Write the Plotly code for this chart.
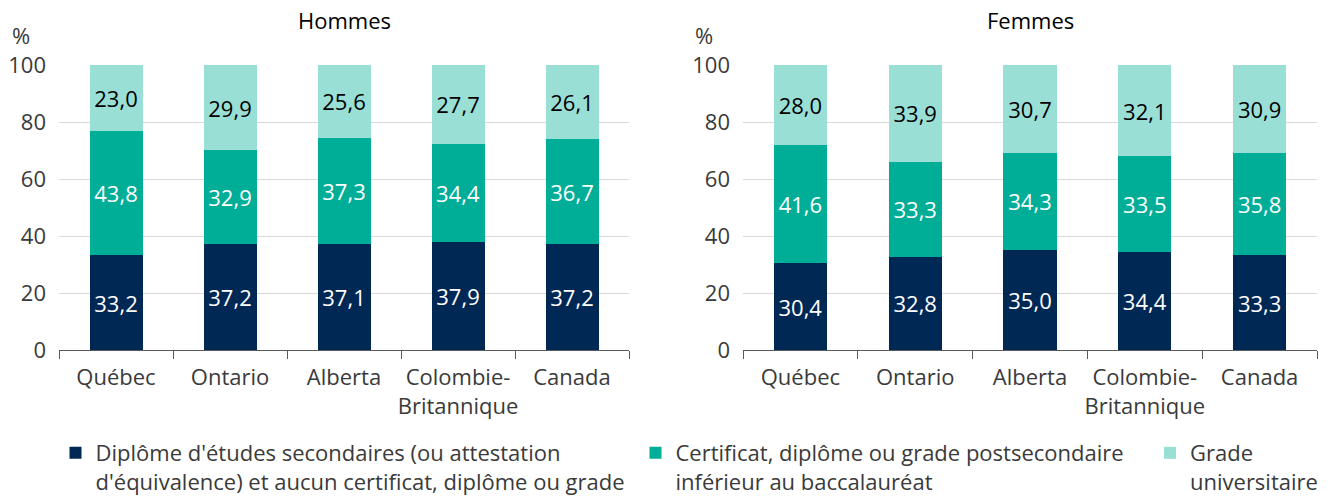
import plotly.graph_objects as go
from plotly.subplots import make_subplots

categories = ["Québec", "Ontario", "Alberta", "Colombie-<br>Britannique", "Canada"]
series_names = [
    "Diplôme d'études secondaires (ou attestation<br>d'équivalence) et aucun certificat, diplôme ou grade",
    "Certificat, diplôme ou grade postsecondaire<br>inférieur au baccalauréat",
    "Grade<br>universitaire",
]
hommes_secondaire = [33.2, 37.2, 37.1, 37.9, 37.2]
hommes_postsec = [43.8, 32.9, 37.3, 34.4, 36.7]
hommes_univ = [23.0, 29.9, 25.6, 27.7, 26.1]
femmes_secondaire = [30.4, 32.8, 35.0, 34.4, 33.3]
femmes_postsec = [41.6, 33.3, 34.3, 33.5, 35.8]
femmes_univ = [28.0, 33.9, 30.7, 32.1, 30.9]
y_ticks = [0, 20, 40, 60, 80, 100]

colors = ["#002855", "#00ae97", "#9adfd6"]
text_colors = ["white", "white", "black"]
FONT = "Open Sans"
FS = 22
TICK_COLOR = "#3a3a3a"

# body margin is removed in the page (post_script), so the figure fills the window
W, H = 1328, 498
ML, MR, MT, MB = 59, 11, 65, 148
PW = W - ML - MR
PH = H - MT - MB

fig = make_subplots(rows=1, cols=2, horizontal_spacing=0)

panels = [
    (1, [hommes_secondaire, hommes_postsec, hommes_univ]),
    (2, [femmes_secondaire, femmes_postsec, femmes_univ]),
]
legend_ids = ["legend", "legend2", "legend3"]
for col, data in panels:
    for i, vals in enumerate(data):
        fig.add_trace(
            go.Bar(
                x=categories,
                y=vals,
                name=series_names[i],
                marker=dict(color=colors[i], line=dict(width=0)),
                texttemplate="%{y:.1f}",
                textposition="inside",
                insidetextanchor="middle",
                textangle=0,
                insidetextfont=dict(color=text_colors[i], size=FS, family=FONT),
                showlegend=(col == 1),
                legend=legend_ids[i],
                hoverinfo="skip",
            ),
            row=1,
            col=col,
        )


def px_x(page_x):
    return (page_x - ML) / PW


def px_y(page_y):
    return (H - MB - page_y) / PH


left_dom = [px_x(59), px_x(629)]
right_dom = [px_x(743), px_x(1317)]

axis_common_x = dict(
    showline=True,
    linecolor="#595959",
    linewidth=1,
    ticks="outside",
    tickson="boundaries",
    ticklen=8,
    tickcolor="#595959",
    tickangle=0,
    ticklabelstandoff=8,
    tickfont=dict(size=FS, color=TICK_COLOR, family=FONT),
    showgrid=False,
    fixedrange=True,
)
axis_common_y = dict(
    range=[0, 100],
    tickvals=y_ticks,
    showgrid=True,
    gridcolor="#d9d9d9",
    gridwidth=1,
    showline=False,
    zeroline=False,
    ticks="",
    ticklabelstandoff=12,
    tickfont=dict(size=FS, color=TICK_COLOR, family=FONT),
    fixedrange=True,
)
fig.update_xaxes(domain=left_dom, row=1, col=1, **axis_common_x)
fig.update_xaxes(domain=right_dom, row=1, col=2, **axis_common_x)
fig.update_yaxes(row=1, col=1, **axis_common_y)
fig.update_yaxes(row=1, col=2, **axis_common_y)

annotations = [
    dict(text="Hommes", x=(left_dom[0] + left_dom[1]) / 2, y=px_y(20), xref="paper", yref="paper",
         showarrow=False, font=dict(size=FS, color="black", family=FONT), xanchor="center", yanchor="middle"),
    dict(text="Femmes", x=(right_dom[0] + right_dom[1]) / 2, y=px_y(20), xref="paper", yref="paper",
         showarrow=False, font=dict(size=FS, color="black", family=FONT), xanchor="center", yanchor="middle"),
    dict(text="%", x=px_x(21), y=px_y(35), xref="paper", yref="paper",
         showarrow=False, font=dict(size=FS, color=TICK_COLOR, family=FONT), xanchor="center", yanchor="middle"),
    dict(text="%", x=px_x(704), y=px_y(35), xref="paper", yref="paper",
         showarrow=False, font=dict(size=FS, color=TICK_COLOR, family=FONT), xanchor="center", yanchor="middle"),
]

legend_common = dict(
    orientation="h",
    yanchor="top",
    y=px_y(432),
    xanchor="left",
    valign="top",
    font=dict(size=FS, color=TICK_COLOR, family=FONT),
    bgcolor="rgba(0,0,0,0)",
    borderwidth=0,
)

fig.update_layout(
    width=W,
    height=H,
    margin=dict(l=ML, r=MR, t=MT, b=MB, autoexpand=False),
    barmode="stack",
    bargap=0.535,
    separators=", ",
    plot_bgcolor="white",
    paper_bgcolor="white",
    font=dict(family=FONT, size=FS, color=TICK_COLOR),
    annotations=annotations,
    uniformtext=dict(minsize=FS, mode="show"),
    hovermode=False,
    legend=dict(x=px_x(55.5), **legend_common),
    legend2=dict(x=px_x(635.5), **legend_common),
    legend3=dict(x=px_x(1150), **legend_common),
)

fig.write_html(
    "out.html",
    config={"displayModeBar": False},
    post_script="document.body.style.margin='0';document.body.style.overflow='hidden';",
)
